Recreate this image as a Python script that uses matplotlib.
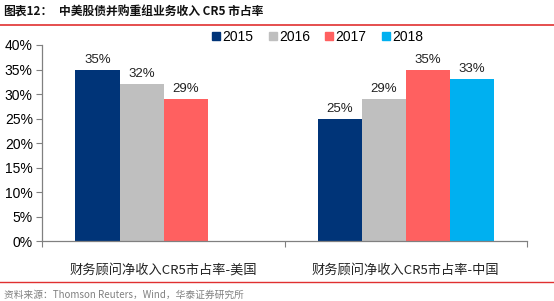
import matplotlib
matplotlib.use("Agg")
import matplotlib.pyplot as plt
from matplotlib.lines import Line2D
import numpy as np

plt.rcParams['font.family'] = ['Noto Sans CJK SC', 'DejaVu Sans']

categories = ["财务顾问净收入CR5市占率-美国", "财务顾问净收入CR5市占率-中国"]
years = ["2015", "2016", "2017", "2018"]
values = {
    "2015": [0.35, 0.25],
    "2016": [0.32, 0.29],
    "2017": [0.29, 0.35],
    "2018": [None, 0.33],
}
labels = {
    "2015": ["35%", "25%"],
    "2016": ["32%", "29%"],
    "2017": ["29%", "35%"],
    "2018": [None, "33%"],
}
colors = ["#003478", "#BFBFBF", "#FF6060", "#00B0F0"]
yticks = [0, 0.05, 0.10, 0.15, 0.20, 0.25, 0.30, 0.35, 0.40]
ytick_labels = ["0%", "5%", "10%", "15%", "20%", "25%", "30%", "35%", "40%"]

fig = plt.figure(figsize=(5.54, 3.01), dpi=100)
ax = fig.add_axes([0.0767, 0.1993, 0.8745, 0.6512])

x = np.arange(len(categories))
w = 0.182
for i, (yr, c) in enumerate(zip(years, colors)):
    offs = (i - 1.5) * w
    for j in range(len(categories)):
        v = values[yr][j]
        if v is None:
            continue
        ax.bar(x[j] + offs, v, width=w, color=c, linewidth=0)
        ax.text(x[j] + offs, v + 0.008, labels[yr][j], ha='center', va='bottom',
                fontsize=9.5, family=['Liberation Sans', 'DejaVu Sans'], color='#222222')

ax.set_xlim(-0.5, 1.5)
ax.set_ylim(0, 0.40)
ax.set_yticks(yticks)
ax.set_yticklabels(ytick_labels, family=['Liberation Sans', 'DejaVu Sans'], fontsize=10)
ax.set_xticks([-0.5, 0.5, 1.5])
ax.set_xticklabels([])
ax.set_xticks(x, minor=True)
ax.set_xticklabels(categories, minor=True, fontsize=9.5, color='#222222')
ax.tick_params(axis='x', which='minor', length=0, pad=16)
ax.tick_params(axis='x', which='major', length=4, color='#808080', direction='out')
ax.tick_params(axis='y', length=4, color='#808080', direction='out', pad=3)
for s in ['top', 'right']:
    ax.spines[s].set_visible(False)
for s in ['left', 'bottom']:
    ax.spines[s].set_color('#808080')
    ax.spines[s].set_linewidth(0.9)

handles = [Line2D([0], [0], marker='s', color='none', markerfacecolor=c,
                  markeredgecolor=c, markersize=6) for c in colors]
leg = fig.legend(handles, years, loc='center left', bbox_to_anchor=(0.360, 0.877),
                 ncol=4, frameon=False, handlelength=0.6, handletextpad=0.15,
                 columnspacing=1.1, prop={'family': ['Liberation Sans', 'DejaVu Sans'], 'size': 10})

# Title and rules
fig.text(0.005, 0.963, "图表12：", fontsize=8.5,
         fontweight='bold', ha='left', va='center', color='#111111')
fig.text(0.107, 0.963, "中美股债并购重组业务收入 CR5 市占率", fontsize=8.5,
         fontweight='bold', ha='left', va='center', color='#111111')
fig.add_artist(Line2D([0.0, 1.0], [0.918, 0.918], color='#E03030', linewidth=1.2,
                      transform=fig.transFigure))
fig.add_artist(Line2D([0.0, 1.0], [0.062, 0.062], color='#E03030', linewidth=1.0,
                      transform=fig.transFigure))
fig.text(0.008, 0.022, "资料来源：Thomson Reuters，Wind，华泰证券研究所", fontsize=7,
         ha='left', va='center', color='#808080')

fig.savefig("out.png", dpi=100)
